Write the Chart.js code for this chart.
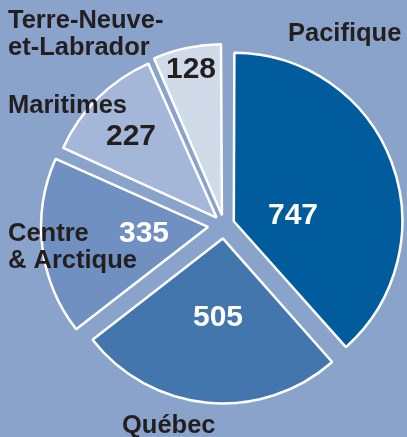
<!DOCTYPE html>
<html>
<head>
<meta charset="utf-8">
<script src="https://cdn.jsdelivr.net/npm/chart.js@4/dist/chart.umd.min.js"></script>
<style>
    html, body { margin: 0; padding: 0; background: #8aa3ca; }
    #wrap { width: 407px; height: 437px; }
</style>
</head>
<body>
<div id="wrap"><canvas id="regionsChart" width="407" height="437"></canvas></div>
<script>
const regions = ['Pacifique', 'Québec', 'Centre & Arctique', 'Maritimes', 'Terre-Neuve-et-Labrador'];
const counts = [747, 505, 335, 227, 128];
const sliceColors = ['#005c9c', '#4376ad', '#7190c2', '#a4b7d8', '#d0dbea'];
const countColors = ['#ffffff', '#ffffff', '#ffffff', '#231f20', '#231f20'];

// where the region names and the counts are written (text only)
const nameLines = [
    ['Pacifique'],
    ['Québec'],
    ['Centre', '& Arctique'],
    ['Maritimes'],
    ['Terre-Neuve-', 'et-Labrador'],
];
const nameSpots = [
    {x: 288, y: 34},
    {x: 122, y: 426},
    {x: 8, y: 234},
    {x: 8, y: 106},
    {x: 8, y: 21},
];
const countSpots = [
    {x: 293, y: 216},
    {x: 218, y: 318},
    {x: 144, y: 234},
    {x: 131, y: 137},
    {x: 191, y: 70},
];

// how far each slice is pulled out from the centre, px
const gaps = [14, 13.5, 18, 14, 16];

// chart.js moves an arc by offset/4 * (1 + fix), fix depending on the arc's angle
function sliceOffset(context) {
    const data = context.dataset.data;
    const total = data.reduce((a, b) => a + b, 0);
    const circ = data[context.dataIndex] / total * Math.PI * 2;
    const fix = 1 - Math.sin(Math.min(Math.PI, circ));
    return 4 * gaps[context.dataIndex] / (1 + fix);
}

const textPlugin = {
    id: 'region-text',
    afterDatasetsDraw(chart) {
        const {ctx} = chart;
        ctx.save();
        ctx.fillStyle = '#231f20';
        ctx.textBaseline = 'middle';
        ctx.textAlign = 'left';
        ctx.font = "bold 25.5px 'Liberation Sans', Arial, sans-serif";
        nameLines.forEach((lines, i) => {
            lines.forEach((line, j) => {
                ctx.fillText(line, nameSpots[i].x, nameSpots[i].y + j * 26.5);
            });
        });

        ctx.font = "bold 30px 'Liberation Sans', Arial, sans-serif";
        ctx.textAlign = 'center';
        chart.data.datasets[0].data.forEach((value, i) => {
            ctx.fillStyle = countColors[i];
            ctx.fillText(String(value), countSpots[i].x, countSpots[i].y);
        });
        ctx.restore();
    }
};

new Chart(document.getElementById('regionsChart'), {
    type: 'pie',
    data: {
        labels: regions,
        datasets: [{
            data: counts,
            backgroundColor: sliceColors,
            borderColor: '#ffffff',
            borderWidth: 2.5,
            offset: sliceOffset,
        }]
    },
    options: {
        responsive: false,
        animation: false,
        radius: 165,
        layout: {padding: {left: 41, right: 0, top: 13, bottom: 0}},
        plugins: {
            legend: {display: false},
            tooltip: {enabled: false},
        },
    },
    plugins: [textPlugin],
});
</script>
</body>
</html>
